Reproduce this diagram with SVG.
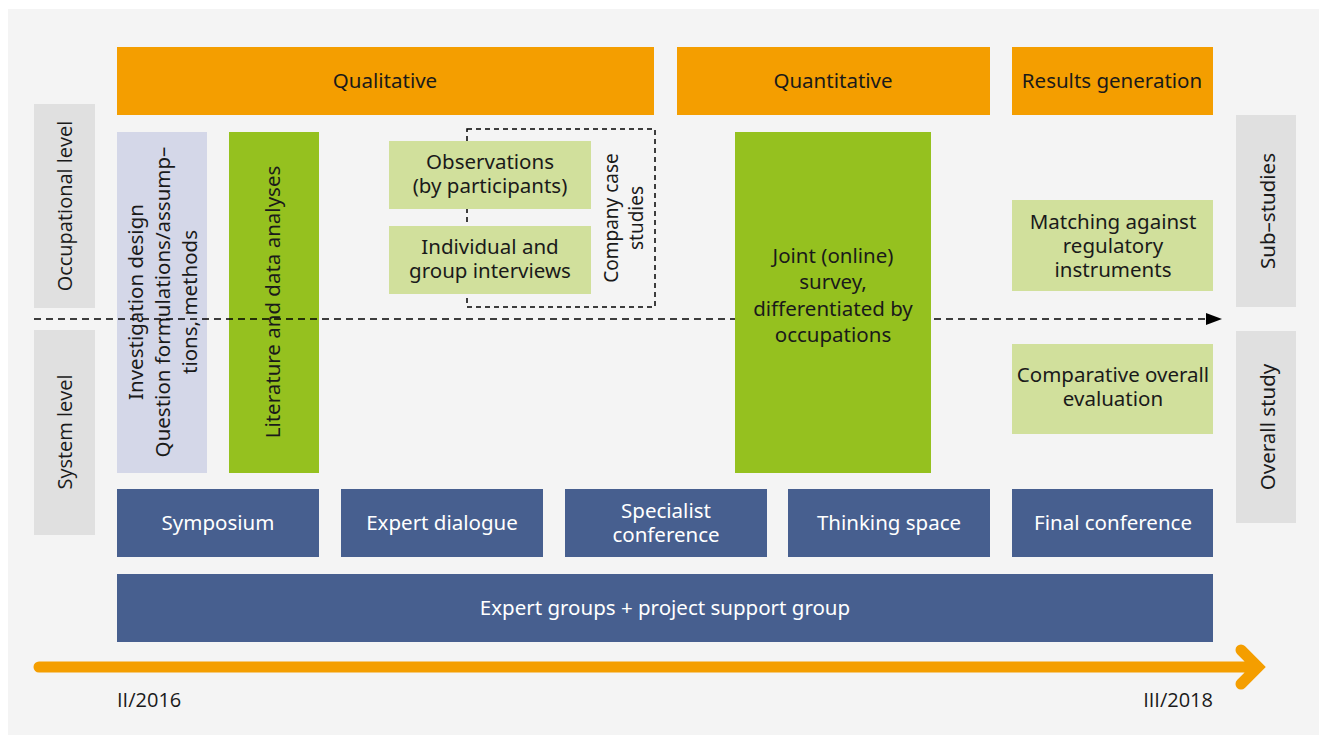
<svg xmlns="http://www.w3.org/2000/svg" width="1319" height="735" viewBox="0 0 1319 735">
<defs>
<style>
.t{font-family:"Noto Sans","Open Sans",sans-serif;font-size:20.5px;fill:#1a1a1a;text-anchor:middle}
.w{fill:#ffffff}
.g{font-family:"Open Sans","Noto Sans",sans-serif;font-size:20px;fill:#1a1a1a;text-anchor:middle}
.or{fill:#f49e00}
.dg{fill:#95c11f}
.lg{fill:#d1e09c}
.bl{fill:#475f8f}
.gr{fill:#e0e0e0}
</style>
<marker id="ah" markerWidth="16" markerHeight="12" refX="15" refY="6" orient="auto" markerUnits="userSpaceOnUse">
<path d="M0,0 L16,6 L0,12 Z" fill="#000"/>
</marker>
</defs>
<rect x="8" y="9" width="1311" height="726" fill="#f4f4f4"/>

<g id="qualitative"><rect class="or" x="117" y="47" width="537" height="68"/><text class="t" x="385" y="88">Qualitative</text></g>
<g id="quantitative"><rect class="or" x="677" y="47" width="313" height="68"/><text class="t" x="833" y="88">Quantitative</text></g>
<g id="results"><rect class="or" x="1012" y="47" width="201" height="68"/><text class="t" x="1112" y="88">Results generation</text></g>

<g id="occupational"><rect class="gr" x="34" y="104" width="61" height="204"/><text class="g" transform="translate(72,206) rotate(-90)">Occupational level</text></g>
<g id="system"><rect class="gr" x="34" y="330" width="61" height="205"/><text class="g" transform="translate(72,432) rotate(-90)">System level</text></g>
<g id="substudies"><rect class="gr" x="1236" y="115" width="60" height="192"/><text class="t" transform="translate(1275,211) rotate(-90)">Sub–studies</text></g>
<g id="overall"><rect class="gr" x="1236" y="331" width="60" height="192"/><text class="t" transform="translate(1275,427) rotate(-90)">Overall study</text></g>

<g id="investigation"><rect fill="#d4d7e8" x="117" y="132" width="90" height="341"/>
<text class="t" transform="translate(170,302) rotate(-90)"><tspan x="0" y="-27">Investigation design</tspan><tspan x="0" y="0">Question formulations/assump–</tspan><tspan x="0" y="27">tions, methods</tspan></text></g>
<g id="literature"><rect class="dg" x="229" y="132" width="90" height="341"/><text class="t" transform="translate(280,302) rotate(-90)">Literature and data analyses</text></g>

<g id="casestudies"><rect x="467" y="129" width="188" height="178" fill="none" stroke="#000" stroke-width="1.5" stroke-dasharray="5,4"/>
<text class="t" style="font-size:19px" transform="translate(621,218) rotate(-90)"><tspan x="0" y="-3">Company case</tspan><tspan x="0" y="22">studies</tspan></text></g>
<g id="observations"><rect class="lg" x="389" y="141" width="202" height="68"/><text class="t"><tspan x="490" y="169">Observations</tspan><tspan x="490" y="193">(by participants)</tspan></text></g>
<g id="interviews"><rect class="lg" x="389" y="226" width="202" height="68"/><text class="t"><tspan x="490" y="254">Individual and</tspan><tspan x="490" y="278">group interviews</tspan></text></g>

<g id="connectors"><line x1="34" y1="319" x2="1221" y2="319" stroke="#000" stroke-width="1.5" stroke-dasharray="7,5" marker-end="url(#ah)"/></g>

<g id="survey"><rect class="dg" x="735" y="132" width="196" height="341"/><text class="t"><tspan x="833" y="263">Joint (online)</tspan><tspan x="833" y="289">survey,</tspan><tspan x="833" y="316">differentiated by</tspan><tspan x="833" y="342">occupations</tspan></text></g>

<g id="matching"><rect class="lg" x="1012" y="200" width="201" height="91"/><text class="t"><tspan x="1113" y="229">Matching against</tspan><tspan x="1113" y="253">regulatory</tspan><tspan x="1113" y="277">instruments</tspan></text></g>
<g id="comparative"><rect class="lg" x="1012" y="344" width="201" height="90"/><text class="t"><tspan x="1113" y="382">Comparative overall</tspan><tspan x="1113" y="406">evaluation</tspan></text></g>

<g id="symposium"><rect class="bl" x="117" y="489" width="202" height="68"/><text class="t w" x="218" y="530">Symposium</text></g>
<g id="expertdialogue"><rect class="bl" x="341" y="489" width="202" height="68"/><text class="t w" x="442" y="530">Expert dialogue</text></g>
<g id="specialist"><rect class="bl" x="565" y="489" width="202" height="68"/><text class="t w"><tspan x="666" y="518">Specialist</tspan><tspan x="666" y="542">conference</tspan></text></g>
<g id="thinking"><rect class="bl" x="788" y="489" width="202" height="68"/><text class="t w" x="889" y="530">Thinking space</text></g>
<g id="final"><rect class="bl" x="1012" y="489" width="201" height="68"/><text class="t w" x="1113" y="530">Final conference</text></g>
<g id="expertgroups"><rect class="bl" x="117" y="574" width="1096" height="68"/><text class="t w" x="665" y="615">Expert groups + project support group</text></g>

<g id="timeline"><path d="M39,667 L1258,667 M1241,650 L1258,667 L1241,684" fill="none" stroke="#f49e00" stroke-width="11" stroke-linecap="round" stroke-linejoin="miter"/>
<text class="g" x="117" y="707" style="text-anchor:start">II/2016</text>
<text class="g" x="1213" y="707" style="text-anchor:end">III/2018</text></g>
</svg>
